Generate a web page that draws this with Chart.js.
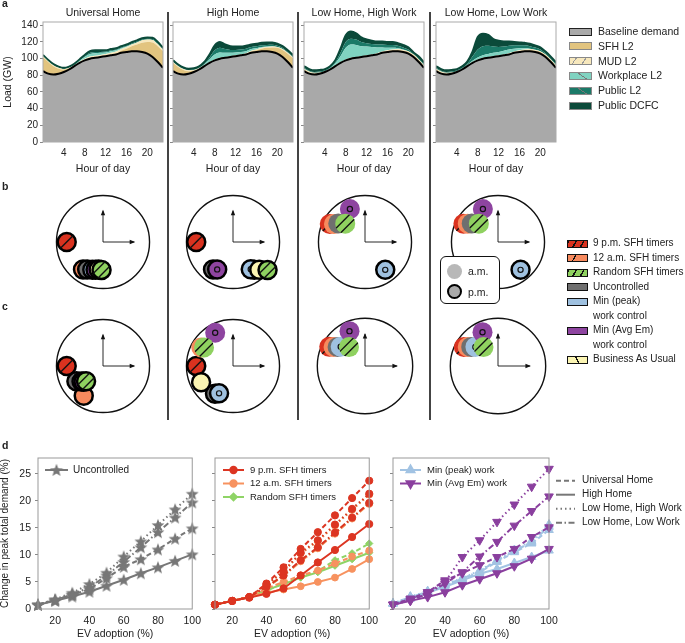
<!DOCTYPE html>
<html>
<head>
<meta charset="utf-8">
<script src="https://cdn.jsdelivr.net/npm/chart.js@4.4.0/dist/chart.umd.min.js"></script>
<style>
body { margin: 0; background: #fff; font-family: "Liberation Sans", Arial, sans-serif; color: #222; }
#page { position: relative; width: 685px; height: 643px; overflow: hidden; }
</style>
</head>
<body>
<div id="page"></div>
<script>
// ---------- panel a: load by hour ----------
const hours = [0,1,2,3,4,5,6,7,8,9,10,11,12,13,14,15,16,17,18,19,20,21,22,23];
const hourTicks = [4, 8, 12, 16, 20];
const loadTicks = [0, 20, 40, 60, 80, 100, 120, 140];
const scenarios = ['Universal Home', 'High Home', 'Low Home, High Work', 'Low Home, Low Work'];

const baseline = [85,82,81,82,84,87,91,95,98,100,101,102,103,104,105,107,108,109,109,108,106,102,96,89];

const sfhUH  = [17,14,10,6,3,1.5,0.5,0.5,0.5,0.5,0.5,0.5,0.5,1,1.5,2.5,4,6,8,11,14,17.5,19,20];
const mudUH  = [1,1,1,1,0.5,0.5,0.5,1,1.5,2,2,2,2,2,2,2,2,2,2.5,3,3,3,2.5,2];
const workUH = [0,0,0,0,0,0,0.3,1,2,3,3,2.5,2,2,1.5,1,0.5,0.3,0,0,0,0,0,0];
const pubUH  = [0.5,0.5,0.5,0.5,0.5,0.5,0.5,0.5,1,1.5,1.5,1,1,1,1,1,1,1,1,1,1,1,1,0.5];
const dcfcUH = [1,1,1,1,1,1,1,1,1.5,2,2,2,1.5,1.5,1.5,1.5,1.5,1.5,1.5,1.5,1.5,1.5,1.5,1.5];

const sfhHH  = [10,8,5.5,3,1.5,1,0.5,0.5,0.5,0.5,0.5,0.5,0.5,0.5,1,1.5,2,3,4,5.5,7,8.5,10,11.5];
const mudHH  = [1,1,1,1,1,0.5,0.5,0.5,0.5,0.5,0.5,0.5,0.5,0.5,0.5,1,1,1,1,1,1,1,1,1];
const workHH = [0,0,0,0,0,0.3,1,3,6,6.5,5,4,3.5,3,2.5,2,1.5,1,0.5,0.3,0,0,0,0];
const pubHH  = [0.5,0.5,0.5,0.5,0.5,0.5,1,2.5,5,5.5,4.5,3.5,3,3,3,2.5,2.5,2,2,2,1.5,1.5,1,1];
const dcfcHH = [1.5,1.5,1.5,1.5,1.5,1.5,2,3.5,6,7,5.5,4.5,4,3.5,3.5,3,3,3,3,2.5,2.5,2,2,2];

const sfhLHHW  = [2,1.5,1,1,0.5,0.5,0.5,0.5,0.5,0.5,0.5,0.5,0.5,0.5,0.5,0.5,1,1,1.5,1.5,2,2,2,2];
const mudLHHW  = [1,1,1,0.5,0.5,0.5,0.5,0.5,0.5,0.5,0.5,0.5,0.5,0.5,1,1,1,1,1,1,1,1,1,1];
const workLHHW = [0,0,0,0,0,0.5,2.5,7,14,16,14.5,12,10.5,9,7,5,3,2,1,0.5,0,0,0,0];
const pubLHHW  = [1,1,1,1,1,1,1.5,4,7,7,6.5,5,4,3.5,3.5,3.5,3.5,3.5,3,2.5,2,1,1.5,1.5];
const dcfcLHHW = [2,2,2,2,1.5,1.5,2,5,8,8.5,7.5,5.5,4.5,4,3.5,3.5,3.5,3.5,3,3,2.5,1.5,2,2];

const sfhLHLW  = [2,1.5,1,1,0.5,0.5,0.5,0.5,0.5,0.5,0.5,0.5,0.5,0.5,0.5,0.5,1,1,1.5,1.5,2,2,2,2];
const mudLHLW  = [1,1,1,0.5,0.5,0.5,0.5,0.5,0.5,0.5,0.5,0.5,0.5,0.5,1,1,1,1,1,1,1,1,1,1];
const workLHLW = [0,0,0,0,0,0.2,0.5,1.5,2.5,3,3.5,4,4,4.5,4.5,3.5,2.5,1.5,0.5,0.3,0,0,0,0];
const pubLHLW  = [1,1,1,1,1,1,1.5,5,9.5,11,10,7.5,6,5,4.5,4,3.5,3.5,3,2.5,2,1.5,1.5,1.5];
const dcfcLHLW = [2,2,2,2,1.5,1.5,2.5,6,15,15,13,9,7.5,6,5,4,3.5,3,3,2.5,2.5,2,2,2];

// ---------- panels b, c: peak hour (clock) and relative peak size ----------
const strategies = ['9 p.m. SFH timers', '12 a.m. SFH timers', 'Random SFH timers', 'Uncontrolled',
                    'Min (peak) work control', 'Min (Avg Em) work control', 'Business As Usual'];
const bHourUH   = [21.0, 19.2, 18.1, 19.0, 18.7, 18.5, 18.3];
const bSizeUH   = [0.78, 0.73, 0.60, 0.68, 0.64, 0.62, 0.60];
const bHourHH   = [21.0, 16.75, 16.3, 19.2, 16.9, 19.0, 16.55];
const bSizeHH   = [0.79, 0.75, 0.955, 0.73, 0.70, 0.68, 0.82];
const bHourLHHW = [9.9, 10.0, 10.43, 10.16, 16.8, 11.18, null];
const bSizeLHHW = [0.85, 0.77, 0.58, 0.70, 0.74, 0.78, null];
const bHourLHLW = [9.93, 10.04, 10.46, 10.17, 16.7, 11.18, null];
const bSizeLHLW = [0.84, 0.76, 0.57, 0.69, 0.77, 0.78, null];
const cHourUH   = [21.0, 19.1, 19.6, 20.0, 19.8, 19.7, null];
const cSizeUH   = [0.78, 0.76, 0.49, 0.66, 0.57, 0.54, null];
const cHourHH   = [21.0, 10.01, 10.09, 19.1, 18.9, 11.06, 20.1];
const cSizeHH   = [0.79, 0.79, 0.74, 0.71, 0.66, 0.81, 0.77];
const cHourLHHW = [9.94, 10.04, 10.66, 10.16, 10.28, 11.2, null];
const cSizeLHHW = [0.85, 0.77, 0.52, 0.70, 0.65, 0.80, null];
const cHourLHLW = [9.97, 10.07, 10.75, 10.18, 10.34, 11.18, null];
const cSizeLHLW = [0.82, 0.75, 0.50, 0.69, 0.62, 0.78, null];

// ---------- panel d: change in peak demand vs EV adoption ----------
const evAdoption = [10, 20, 30, 40, 50, 60, 70, 80, 90, 100];
const evTicks = [20, 40, 60, 80, 100];
const peakTicks = [0, 5, 10, 15, 20, 25];

const uncUH   = [0.8,1.7,2.6,3.7,5.7,7.8,9.2,11.0,13.0,14.9];
const uncHH   = [0.8,1.5,2.3,3.2,4.3,5.4,6.6,7.7,8.9,10.1];
const uncLHHW = [0.8,1.8,3.0,4.6,6.7,9.7,12.5,15.5,18.4,21.3];
const uncLHLW = [0.8,1.6,2.7,4.0,6.2,8.7,11.4,14.2,16.9,19.7];

const pm9UH   = [0.8,1.5,2.2,4.7,7.7,11.1,14.2,17.3,20.5,23.7];
const pm9HH   = [0.8,1.5,2.1,2.8,3.8,6.2,8.6,10.9,13.3,15.7];
const pm9LHHW = [0.8,1.5,2.2,4.5,7.0,10.4,12.7,15.6,18.5,21.3];
const pm9LHLW = [0.8,1.5,2.2,4.1,6.2,9.0,11.4,14.1,16.9,19.6];
const am12UH   = [0.8,1.5,2.2,3.8,5.0,6.2,7.1,8.4,9.7,10.8];
const am12HH   = [0.8,1.5,2.2,3.0,3.6,4.2,5.0,5.8,7.4,9.2];
const am12LHHW = [0.8,1.5,2.2,4.4,6.9,10.2,12.5,15.4,18.3,21.1];
const am12LHLW = [0.8,1.5,2.2,4.0,6.1,8.8,11.2,13.9,16.7,19.4];
const rndUH   = [0.8,1.5,2.2,3.4,4.7,5.9,7.0,9.0,10.3,12.1];
const rndHH   = [0.8,1.5,2.2,3.5,4.6,5.8,6.8,8.0,9.2,10.4];
const rndLHHW = [0.8,1.5,2.2,4.4,6.9,10.3,12.6,15.5,18.4,21.2];
const rndLHLW = [0.8,1.5,2.2,4.0,6.1,8.9,11.3,14.0,16.8,19.5];

const minPeakUH   = [1.0,2.2,3.1,4.4,5.4,6.8,8.7,10.5,12.1,14.6];
const minPeakHH   = [1.0,1.9,3.0,4.1,5.3,6.5,7.4,8.5,9.6,10.8];
const minPeakLHHW = [1.0,2.3,3.3,4.6,5.7,7.1,9.0,10.9,12.6,15.6];
const minPeakLHLW = [1.0,2.2,3.2,4.5,5.6,7.0,8.9,10.7,12.4,15.2];
const minAvgUH   = [0.8,1.9,3.1,5.3,6.6,8.1,9.6,11.1,13.3,15.1];
const minAvgHH   = [0.8,1.5,2.2,3.1,4.4,5.5,6.6,7.9,9.3,11.1];
const minAvgLHHW = [0.8,1.9,3.1,5.0,9.6,12.7,16.1,19.3,22.6,25.9];
const minAvgLHLW = [0.8,1.6,2.8,4.7,6.8,9.7,12.4,15.4,18.1,20.8];

// ---------- styles ----------
Chart.defaults.font.family = '"Liberation Sans", Arial, sans-serif';
Chart.defaults.color = '#222';

const layerNames = ['Baseline demand', 'SFH L2', 'MUD L2', 'Workplace L2', 'Public L2', 'Public DCFC'];
const layerColors = ['#a9a9a9', '#e2c47f', '#f7e8bd', '#80d3c1', '#1b7a68', '#0b4a3a'];
const stratColors = ['#d9321f', '#f78a5e', '#8fd160', '#6f6f6f', '#9fc1e0', '#8e44a0', '#fbf5b3'];
const stratOrder = [6, 5, 0, 4, 3, 2, 1];
const stratHatch = [1, 0, 2, 0, 0, 0, 0];
const stratRing = [false, false, false, false, true, true, false];
const dashes = { UH: [5, 3], HH: [], LHHW: [1.5, 3], LHLW: [6, 2.5, 1.5, 2.5] };

const page = document.getElementById('page');

function put(tag, css, html) {
    let el = document.createElement(tag);
    el.style.cssText = 'position:absolute;' + css;
    if (html != null) el.innerHTML = html;
    page.appendChild(el);
    return el;
}

function addCanvas(left, top, w, h) {
    let cv = put('canvas', `left:${left}px;top:${top}px;width:${w}px;height:${h}px;`);
    cv.width = w;
    cv.height = h;
    return cv;
}

function text(str, x, y, css) {
    return put('div', `left:${x}px;top:${y - 7}px;font-size:10.5px;line-height:14px;white-space:nowrap;` + (css || ''), str);
}

const boxPlugin = {
    id: 'box',
    afterDraw(chart, args, opts) {
        let a = chart.chartArea, ctx = chart.ctx;
        ctx.save();
        ctx.strokeStyle = opts.color || '#aaa';
        ctx.lineWidth = 1;
        ctx.strokeRect(a.left, a.top, a.right - a.left, a.bottom - a.top);
        ctx.restore();
    }
};

function fixedTicks(list) {
    return scale => { scale.ticks = list.map(v => ({ value: v })); };
}

// ---------- panel a ----------
const aPlotLeft = [43, 173, 304, 436];
const aLayers = [
    [sfhUH, mudUH, workUH, pubUH, dcfcUH],
    [sfhHH, mudHH, workHH, pubHH, dcfcHH],
    [sfhLHHW, mudLHHW, workLHHW, pubLHHW, dcfcLHHW],
    [sfhLHLW, mudLHLW, workLHLW, pubLHLW, dcfcLHLW]
];

function loadChart(i) {
    let yW = i === 0 ? 43 : 5;
    let pad = 12;
    let cv = addCanvas(aPlotLeft[i] - yW, 22 - pad, yW + 120 + pad, pad + 120 + 36);
    text(scenarios[i], aPlotLeft[i] + 60, 12, 'transform:translateX(-50%);');

    let series = [baseline].concat(aLayers[i]);
    let datasets = series.map((d, k) => ({
        label: layerNames[k],
        data: d,
        backgroundColor: layerColors[k],
        borderColor: k === 0 ? '#000' : (k === 5 ? '#0b4a3a' : 'rgba(0,0,0,0)'),
        borderWidth: k === 0 || k === 5 ? 2 : 0,
        fill: k === 0 ? 'origin' : '-1',
        pointRadius: 0,
        cubicInterpolationMode: 'monotone'
    }));

    new Chart(cv, {
        type: 'line',
        data: { labels: hours, datasets: datasets },
        plugins: [boxPlugin],
        options: {
            responsive: false,
            animation: false,
            events: [],
            layout: { padding: { top: pad, right: pad, left: 0, bottom: 0 } },
            plugins: { legend: { display: false }, tooltip: { enabled: false }, box: { color: '#aaa' } },
            scales: {
                x: {
                    type: 'linear', min: 0, max: 23,
                    afterBuildTicks: fixedTicks(hourTicks),
                    afterFit: s => { s.height = 36; },
                    grid: { display: false, drawTicks: false },
                    border: { display: false },
                    ticks: { padding: 5, font: { size: 10 }, autoSkip: false, maxRotation: 0 },
                    title: { display: true, text: 'Hour of day', font: { size: 10.5 }, padding: { top: 0, bottom: 3 } }
                },
                y: {
                    stacked: true, min: 0, max: 144,
                    afterBuildTicks: fixedTicks(loadTicks),
                    afterFit: s => { s.width = yW; },
                    grid: { drawOnChartArea: false, tickLength: 3, color: '#888' },
                    border: { display: false },
                    ticks: { display: i === 0, padding: 2, font: { size: 10 } },
                    title: { display: i === 0, text: 'Load (GW)', font: { size: 10.5 }, padding: { top: 2, bottom: 0 } }
                }
            }
        }
    });
}
for (let i = 0; i < 4; i++) loadChart(i);

// panel a legend
const aSwatchCss = [
    'background:#a9a9a9;border:1.5px solid #222;',
    'background:#e2c47f;border:1px solid #888;',
    'background:repeating-linear-gradient(-55deg,#f7e8bd 0 7px,#999 7px 8px);border:1px solid #888;',
    'background:repeating-linear-gradient(35deg,#80d3c1 0 9px,#777 9px 10px);border:1px solid #888;',
    'background:repeating-linear-gradient(35deg,#1b7a68 0 9px,#777 9px 10px);border:1px solid #888;',
    'background:#0b4a3a;border:1px solid #888;'
];
layerNames.forEach((n, k) => {
    let y = 31 + k * 14.8;
    put('div', `left:569px;top:${y - 3.5}px;width:23px;height:8px;box-sizing:border-box;` + aSwatchCss[k]);
    text(n, 598, y);
});

// ---------- panels b, c ----------
function toClock(hour, size) {
    let t = (hour % 12) / 12 * 2 * Math.PI;
    return { x: size * Math.sin(t), y: size * Math.cos(t), h: hour };
}

const clockPlugin = {
    id: 'clock',
    beforeDatasetsDraw(chart) {
        let ctx = chart.ctx, xs = chart.scales.x, ys = chart.scales.y;
        let cx = xs.getPixelForValue(0), cy = ys.getPixelForValue(0);
        let R = xs.getPixelForValue(1) - cx;
        ctx.save();
        ctx.strokeStyle = '#111';
        ctx.lineWidth = 1.4;
        ctx.beginPath();
        ctx.arc(cx, cy, R, 0, 2 * Math.PI);
        ctx.stroke();
        let L = 0.67 * R;
        ctx.lineWidth = 0.9;
        ctx.beginPath();
        ctx.moveTo(cx, cy - L);
        ctx.lineTo(cx, cy);
        ctx.lineTo(cx + L, cy);
        ctx.stroke();
        ctx.fillStyle = '#111';
        ctx.beginPath();
        ctx.moveTo(cx, cy - L - 1); ctx.lineTo(cx - 2.2, cy - L + 4.5); ctx.lineTo(cx + 2.2, cy - L + 4.5);
        ctx.fill();
        ctx.beginPath();
        ctx.moveTo(cx + L + 1, cy); ctx.lineTo(cx + L - 4.5, cy - 2.2); ctx.lineTo(cx + L - 4.5, cy + 2.2);
        ctx.fill();
        ctx.restore();
    },
    afterDatasetDraw(chart, args) {
        let ds = chart.data.datasets[args.index];
        let ctx = chart.ctx;
        args.meta.data.forEach(pt => {
            if (pt.skip) return;
            let r = pt.options.radius;
            ctx.save();
            if (ds.hatch) {
                ctx.beginPath();
                ctx.arc(pt.x, pt.y, r, 0, 2 * Math.PI);
                ctx.clip();
                ctx.strokeStyle = '#111';
                ctx.lineWidth = 1.4;
                let offs = ds.hatch === 1 ? [0] : [-3.3, 3.3];
                offs.forEach(o => {
                    let nx = o * 0.7071, ny = o * 0.7071;
                    ctx.beginPath();
                    ctx.moveTo(pt.x + nx - 12 * 0.7071, pt.y + ny + 12 * 0.7071);
                    ctx.lineTo(pt.x + nx + 12 * 0.7071, pt.y + ny - 12 * 0.7071);
                    ctx.stroke();
                });
            }
            if (ds.ring) {
                ctx.strokeStyle = '#111';
                ctx.lineWidth = 1.2;
                ctx.beginPath();
                ctx.arc(pt.x, pt.y, 2.6, 0, 2 * Math.PI);
                ctx.stroke();
            }
            ctx.restore();
        });
    }
};

function clockChart(cx, cy, peakHours, peakSizes) {
    let cv = addCanvas(cx - 72, cy - 72, 144, 144);
    let datasets = strategies.map((s, k) => ({
        label: s,
        data: peakHours[k] == null ? [] : [toClock(peakHours[k], peakSizes[k])],
        order: stratOrder[k],
        hatch: stratHatch[k],
        ring: stratRing[k],
        backgroundColor: stratColors[k],
        borderColor: '#000',
        pointRadius: c => (c.raw && c.raw.h >= 12 ? 9 : 10),
        pointBorderWidth: c => (c.raw && c.raw.h >= 12 ? 2.5 : 0),
        clip: false
    }));
    new Chart(cv, {
        type: 'scatter',
        data: { datasets: datasets },
        plugins: [clockPlugin],
        options: {
            responsive: false,
            animation: false,
            events: [],
            layout: { padding: 0 },
            plugins: { legend: { display: false }, tooltip: { enabled: false } },
            scales: {
                x: { type: 'linear', min: -1.3, max: 1.3, display: false },
                y: { type: 'linear', min: -1.3, max: 1.3, display: false }
            }
        }
    });
}
const clockX = [102.5, 232.8, 364.8, 498];
clockChart(clockX[0], 242, bHourUH, bSizeUH);
clockChart(clockX[1], 242, bHourHH, bSizeHH);
clockChart(clockX[2], 242, bHourLHHW, bSizeLHHW);
clockChart(clockX[3], 242, bHourLHLW, bSizeLHLW);
clockChart(clockX[0], 365.5, cHourUH, cSizeUH);
clockChart(clockX[1], 365.5, cHourHH, cSizeHH);
clockChart(clockX[2], 365.5, cHourLHHW, cSizeLHHW);
clockChart(clockX[3], 365.5, cHourLHLW, cSizeLHLW);

// a.m. / p.m. key
put('div', 'left:440px;top:256px;width:60px;height:48px;box-sizing:border-box;border:1px solid #111;border-radius:6px;background:#fff;');
put('div', 'left:446.5px;top:263.5px;width:15px;height:15px;border-radius:50%;background:#b8b8b8;');
put('div', 'left:446.5px;top:284px;width:15px;height:15px;box-sizing:border-box;border-radius:50%;background:#aaa;border:2.5px solid #000;');
text('a.m.', 468, 271);
text('p.m.', 468, 291.5);

// strategy legend
const bcSwatchCss = [
    'background:repeating-linear-gradient(-60deg,#d9321f 0 5px,#111 5px 6.5px);',
    'background:linear-gradient(-60deg,#f78a5e 0 62%,#111 62% 68%,#f78a5e 68%);',
    'background:repeating-linear-gradient(-60deg,#8fd160 0 5px,#111 5px 6.5px);',
    'background:#6f6f6f;',
    'background:#9fc1e0;',
    'background:#8e44a0;',
    'background:linear-gradient(60deg,#fbf5b3 0 45%,#111 45% 52%,#fbf5b3 52%);'
];
const bcLabels = ['9 p.m. SFH timers', '12 a.m. SFH timers', 'Random SFH timers', 'Uncontrolled',
                  'Min (peak)<br>work control', 'Min (Avg Em)<br>work control', 'Business As Usual'];
const bcRow = [0, 1, 2, 3, 4, 6, 8];
bcLabels.forEach((n, k) => {
    let y = 243.3 + bcRow[k] * 14.5;
    put('div', `left:566.5px;top:${y - 3.8}px;width:21px;height:8px;box-sizing:border-box;border:1.2px solid #111;` + bcSwatchCss[k]);
    put('div', `left:593px;top:${y - 7.25}px;font-size:10px;line-height:14.5px;white-space:nowrap;`, n);
});

// ---------- panel d ----------
function starImage(color) {
    let c = document.createElement('canvas');
    c.width = 14; c.height = 14;
    let g = c.getContext('2d');
    g.fillStyle = color;
    g.beginPath();
    for (let i = 0; i < 10; i++) {
        let r = i % 2 ? 2.9 : 6.8;
        let a = -Math.PI / 2 + i * Math.PI / 5;
        g.lineTo(7 + r * Math.cos(a), 7.6 + r * Math.sin(a));
    }
    g.closePath();
    g.fill();
    return c;
}
const star = starImage('#777');

function drawLegendRows(ctx, items, x0, len, textX, y0, dy, fontSize) {
    items.forEach((it, i) => {
        let y = y0 + i * dy;
        ctx.save();
        ctx.strokeStyle = it.color;
        ctx.fillStyle = it.color;
        ctx.lineWidth = 2;
        ctx.setLineDash(it.dash || []);
        ctx.beginPath();
        ctx.moveTo(x0, y);
        ctx.lineTo(x0 + len, y);
        ctx.stroke();
        ctx.setLineDash([]);
        if (it.style) {
            Chart.helpers.drawPoint(ctx, { pointStyle: it.style, radius: it.radius, rotation: it.rotation || 0, borderWidth: 1 }, x0 + len / 2, y);
        }
        ctx.fillStyle = '#222';
        ctx.font = fontSize + 'px "Liberation Sans", Arial, sans-serif';
        ctx.textBaseline = 'middle';
        ctx.fillText(it.text, textX, y);
        ctx.restore();
    });
}

const dPlotLeft = [38, 215, 392];

function adoptionChart(i, series, legendItems, extra) {
    let yW = i === 0 ? 38 : 5;
    let pad = 12;
    let padRight = i === 2 ? 685 - (dPlotLeft[i] + 157) : pad;
    let left = dPlotLeft[i] - yW;
    let cv = addCanvas(left, 458 - pad, yW + 157 + padRight, pad + 151 + 34);
    let legendPlugin = {
        id: 'innerLegend',
        afterDraw(chart) {
            let ctx = chart.ctx;
            let lx = i === 0 ? 45 : 13;
            let tx = i === 0 ? 73 : 40;
            drawLegendRows(ctx, legendItems, lx, i === 0 ? 23 : 21, tx, 470 - (458 - pad), 13.5, i === 0 ? 10 : 9.5);
            if (extra) extra(chart);
        }
    };
    new Chart(cv, {
        type: 'line',
        data: {
            labels: evAdoption,
            datasets: series.map(s => ({
                data: s.data,
                borderColor: s.color,
                backgroundColor: s.color,
                borderWidth: 2,
                borderDash: s.dash,
                pointStyle: s.style,
                pointRadius: s.radius,
                pointRotation: s.rotation || 0,
                pointBorderWidth: 1,
                fill: false,
                tension: 0,
                clip: false
            }))
        },
        plugins: [boxPlugin, legendPlugin],
        options: {
            responsive: false,
            animation: false,
            events: [],
            layout: { padding: { top: pad, right: padRight, left: 0, bottom: 0 } },
            plugins: { legend: { display: false }, tooltip: { enabled: false }, box: { color: '#999' } },
            scales: {
                x: {
                    type: 'linear', min: 10, max: 100,
                    afterBuildTicks: fixedTicks(evTicks),
                    afterFit: s => { s.height = 34; },
                    grid: { display: false, drawTicks: false },
                    border: { display: false },
                    ticks: { padding: 6, font: { size: 10.5 }, autoSkip: false, maxRotation: 0 },
                    title: { display: true, text: 'EV adoption (%)', font: { size: 10.5 }, padding: { top: 0, bottom: 3 } }
                },
                y: {
                    min: 0, max: 27.9,
                    afterBuildTicks: fixedTicks(peakTicks),
                    afterFit: s => { s.width = yW; },
                    grid: { drawOnChartArea: false, tickLength: 3, color: '#888' },
                    border: { display: false },
                    ticks: { display: i === 0, padding: 4, font: { size: 10.5 } },
                    title: { display: i === 0, text: 'Change in peak total demand (%)', font: { size: 10 }, padding: { top: -1, bottom: 0 } }
                }
            }
        }
    });
}

const grey = '#777', red = '#dc3522', orange = '#f7925f', green = '#8fd466', blue = '#a2c3e3', purple = '#8a3f9e';

adoptionChart(0, [
    { data: uncUH, color: grey, dash: dashes.UH, style: star, radius: 5 },
    { data: uncHH, color: grey, dash: dashes.HH, style: star, radius: 5 },
    { data: uncLHHW, color: grey, dash: dashes.LHHW, style: star, radius: 5 },
    { data: uncLHLW, color: grey, dash: dashes.LHLW, style: star, radius: 5 }
], [{ text: 'Uncontrolled', color: grey, style: star, radius: 5 }]);

adoptionChart(1, [
    { data: pm9UH, color: red, dash: dashes.UH, style: 'circle', radius: 3.6 },
    { data: pm9HH, color: red, dash: dashes.HH, style: 'circle', radius: 3.6 },
    { data: pm9LHHW, color: red, dash: dashes.LHHW, style: 'circle', radius: 3.6 },
    { data: pm9LHLW, color: red, dash: dashes.LHLW, style: 'circle', radius: 3.6 },
    { data: am12UH, color: orange, dash: dashes.UH, style: 'circle', radius: 3.4 },
    { data: am12HH, color: orange, dash: dashes.HH, style: 'circle', radius: 3.4 },
    { data: am12LHHW, color: orange, dash: dashes.LHHW, style: 'circle', radius: 3.4 },
    { data: am12LHLW, color: orange, dash: dashes.LHLW, style: 'circle', radius: 3.4 },
    { data: rndUH, color: green, dash: dashes.UH, style: 'rectRot', radius: 3.6 },
    { data: rndHH, color: green, dash: dashes.HH, style: 'rectRot', radius: 3.6 },
    { data: rndLHHW, color: green, dash: dashes.LHHW, style: 'rectRot', radius: 3.6 },
    { data: rndLHLW, color: green, dash: dashes.LHLW, style: 'rectRot', radius: 3.6 }
], [
    { text: '9 p.m. SFH timers', color: red, style: 'circle', radius: 3.2 },
    { text: '12 a.m. SFH timers', color: orange, style: 'circle', radius: 3.2 },
    { text: 'Random SFH timers', color: green, style: 'rectRot', radius: 3.4 }
]);

adoptionChart(2, [
    { data: minAvgUH, color: purple, dash: dashes.UH, style: 'triangle', radius: 5, rotation: 180 },
    { data: minAvgHH, color: purple, dash: dashes.HH, style: 'triangle', radius: 5, rotation: 180 },
    { data: minAvgLHHW, color: purple, dash: dashes.LHHW, style: 'triangle', radius: 5, rotation: 180 },
    { data: minAvgLHLW, color: purple, dash: dashes.LHLW, style: 'triangle', radius: 5, rotation: 180 },
    { data: minPeakUH, color: blue, dash: dashes.UH, style: 'triangle', radius: 5 },
    { data: minPeakHH, color: blue, dash: dashes.HH, style: 'triangle', radius: 5 },
    { data: minPeakLHHW, color: blue, dash: dashes.LHHW, style: 'triangle', radius: 5 },
    { data: minPeakLHLW, color: blue, dash: dashes.LHLW, style: 'triangle', radius: 5 }
], [
    { text: 'Min (peak) work', color: blue, style: 'triangle', radius: 4.5 },
    { text: 'Min (Avg Em) work', color: purple, style: 'triangle', radius: 4.5, rotation: 180 }
], chart => {
    let items = scenarios.map((s, k) => ({ text: s, color: '#777', dash: dashes[['UH', 'HH', 'LHHW', 'LHLW'][k]] }));
    drawLegendRows(chart.ctx, items, 556 - 387, 19, 582 - 387, 480.7 - 446, 14, 10);
});

// ---------- frame: panel letters and separators ----------
[['a', 3], ['b', 186], ['c', 306], ['d', 445]].forEach(([l, y]) => {
    put('div', `left:2px;top:${y - 7}px;font-size:10.5px;line-height:14px;font-weight:bold;`, l);
});
[168, 298, 430].forEach(x => {
    put('div', `left:${x - 0.7}px;top:12px;width:1.4px;height:408px;background:#444;`);
});
</script>
</body>
</html>
